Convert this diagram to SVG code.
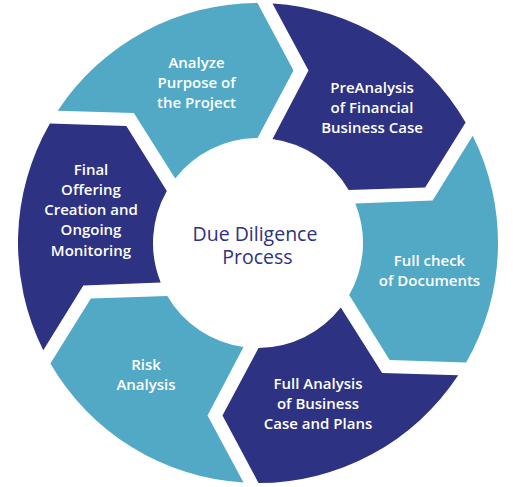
<svg xmlns="http://www.w3.org/2000/svg" width="513" height="487" viewBox="0 0 513 487">
<style>
.light{fill:#51A9C6}
.dark{fill:#2D3282}
.lbl{font-family:"Open Sans","Noto Sans","Liberation Sans",sans-serif;font-weight:600;font-size:15px;fill:#ffffff;text-anchor:middle}
.ctr{font-family:"Open Sans","Noto Sans","Liberation Sans",sans-serif;font-weight:400;font-size:19.5px;fill:#2D3282;text-anchor:middle}
</style>
<rect width="513" height="487" fill="#ffffff"/>
<g id="connectors"></g>
<g id="analyze">
<path class="light" d="M57.78 110.66 A240 240 0 0 1 257.5 3 L293.5 70.5 L257.5 138 A105 105 0 0 0 175.19 178.44 L133.86 113.02 Z"/>
<text class="lbl" x="196.5" y="68.3">Analyze</text>
<text class="lbl" x="196.5" y="88.3">Purpose of</text>
<text class="lbl" x="196.5" y="108.3">the Project</text>
</g>
<g id="preanalysis">
<path class="dark" d="M272.5 3.44 A240 240 0 0 1 465.6 122.57 L425.14 187.49 L348.68 190.07 A105 105 0 0 0 272.5 139.01 L308.5 70.5 Z"/>
<text class="lbl" x="372" y="93.3">PreAnalysis</text>
<text class="lbl" x="372" y="113.3">of Financial</text>
<text class="lbl" x="372" y="133.3">Business Case</text>
</g>
<g id="fullcheck">
<path class="light" d="M472.72 135.78 A240 240 0 0 1 466.1 362.57 L389.64 359.99 L349.18 295.07 A105 105 0 0 0 355.31 203.56 L432.64 200.48 Z"/>
<text class="lbl" x="429.5" y="266">Full check</text>
<text class="lbl" x="429.5" y="286">of Documents</text>
</g>
<g id="fullanalysis">
<path class="dark" d="M458.22 375.34 A240 240 0 0 1 258.5 483 L222.5 415.5 L258.5 348 A105 105 0 0 0 340.81 307.56 L382.14 372.98 Z"/>
<text class="lbl" x="318" y="388.7">Full Analysis</text>
<text class="lbl" x="318" y="408.7">of Business</text>
<text class="lbl" x="318" y="428.7">Case and Plans</text>
</g>
<g id="risk">
<path class="light" d="M243.5 482.56 A240 240 0 0 1 50.4 363.43 L90.86 298.51 L167.32 295.93 A105 105 0 0 0 243.5 347 L207.5 415.5 Z"/>
<text class="lbl" x="146" y="369.7">Risk</text>
<text class="lbl" x="146" y="389.7">Analysis</text>
</g>
<g id="final">
<path class="dark" d="M43.28 350.22 A240 240 0 0 1 49.9 123.43 L126.36 126.01 L166.82 190.93 A105 105 0 0 0 160.69 282.44 L83.36 285.52 Z"/>
<text class="lbl" x="91" y="175">Final</text>
<text class="lbl" x="91" y="195">Offering</text>
<text class="lbl" x="91" y="215">Creation and</text>
<text class="lbl" x="91" y="235">Ongoing</text>
<text class="lbl" x="91" y="255.5">Monitoring</text>
</g>
<g id="center">
<text class="ctr" x="255" y="241">Due Diligence</text>
<text class="ctr" x="257.5" y="264.3">Process</text>
</g>
</svg>
